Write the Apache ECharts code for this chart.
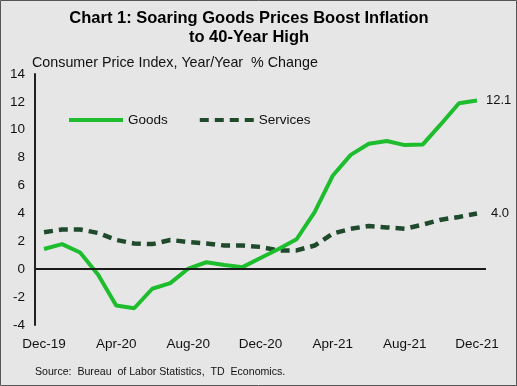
<!DOCTYPE html>
<html>
<head>
<meta charset="utf-8">
<script src="https://cdn.jsdelivr.net/npm/echarts@6/dist/echarts.min.js"></script>
<style>
html,body{margin:0;padding:0;background:#e6e6e6;}
#c{width:517px;height:386px;}
</style>
</head>
<body>
<div id="c"></div>
<script>
const categories = ['Dec-19','Jan-20','Feb-20','Mar-20','Apr-20','May-20','Jun-20','Jul-20','Aug-20','Sep-20','Oct-20','Nov-20','Dec-20','Jan-21','Feb-21','Mar-21','Apr-21','May-21','Jun-21','Jul-21','Aug-21','Sep-21','Oct-21','Nov-21','Dec-21'];
const goods = [1.45, 1.8, 1.2, -0.4, -2.6, -2.8, -1.4, -1.0, 0.05, 0.5, 0.3, 0.15, 0.8, 1.45, 2.15, 4.1, 6.7, 8.2, 9.0, 9.2, 8.9, 8.95, 10.4, 11.9, 12.1];
const services = [2.65, 2.85, 2.85, 2.6, 2.1, 1.85, 1.8, 2.1, 1.95, 1.85, 1.7, 1.7, 1.6, 1.35, 1.35, 1.7, 2.55, 2.9, 3.1, 3.0, 2.9, 3.2, 3.55, 3.75, 4.0];
const yTicks = {min: -4, max: 14, interval: 2};

const FONT = 'Liberation Sans, Arial, sans-serif';
const chart = echarts.init(document.getElementById('c'), null, {renderer: 'canvas'});
chart.setOption({
  backgroundColor: '#e6e6e6',
  animation: false,
  textStyle: {fontFamily: FONT},
  title: [{
    text: 'Chart 1: Soaring Goods Prices Boost Inflation\nto 40-Year High',
    left: 249, top: 9, textAlign: 'center', padding: 0,
    textStyle: {fontSize: 16.5, fontWeight: 'bold', color: '#000', lineHeight: 19, fontFamily: FONT}
  }, {
    text: 'Consumer Price Index, Year/Year  % Change',
    left: 32, top: 56, padding: 0,
    textStyle: {fontSize: 14.3, fontWeight: 'normal', color: '#111', fontFamily: FONT}
  }, {
    text: 'Source:  Bureau  of Labor Statistics,  TD  Economics.',
    left: 35, top: 367, padding: 0,
    textStyle: {fontSize: 10.6, fontWeight: 'normal', color: '#111', fontFamily: FONT}
  }],
  graphic: [{
    type: 'rect', shape: {x: 0.5, y: 0.5, width: 516, height: 385},
    style: {fill: 'none', stroke: '#555', lineWidth: 1}, silent: true
  }],
  legend: {
    left: 62, top: 108,
    itemWidth: 54, itemHeight: 8, itemGap: 30,
    itemStyle: {opacity: 0},
    lineStyle: {width: 4},
    textStyle: {fontSize: 13.5, color: '#111'},
    data: ['Goods', 'Services']
  },
  grid: {left: 35, right: 31, top: 74, bottom: 61, containLabel: false},
  xAxis: {
    type: 'category', data: categories, boundaryGap: true,
    axisLine: {show: false}, axisTick: {show: false},
    axisLabel: {interval: 3, fontSize: 13.5, color: '#111', margin: 12}
  },
  yAxis: {
    type: 'value', min: yTicks.min, max: yTicks.max, interval: yTicks.interval,
    axisLine: {show: true, lineStyle: {color: '#222', width: 2}},
    axisTick: {show: false}, splitLine: {show: false},
    axisLabel: {fontSize: 13.5, color: '#111', margin: 10}
  },
  series: [{
    name: 'Goods', type: 'line', data: goods, symbol: 'none',
    lineStyle: {color: '#1ebd2e', width: 4},
    itemStyle: {color: '#1ebd2e'},
    endLabel: {show: true, formatter: p => p.value.toFixed(1), fontSize: 13, color: '#111', distance: 9},
    markLine: {
      silent: true, symbol: 'none', label: {show: false},
      lineStyle: {color: '#1a1a1a', width: 2, type: 'solid'},
      data: [{yAxis: 0}]
    },
    z: 3
  }, {
    name: 'Services', type: 'line', data: services, symbol: 'none',
    lineStyle: {color: '#1f4a2c', width: 4.5, type: [9, 6]},
    itemStyle: {color: '#1f4a2c'},
    endLabel: {show: true, formatter: p => p.value.toFixed(1), fontSize: 13, color: '#111', distance: 14},
    z: 2
  }]
});
</script>
</body>
</html>
